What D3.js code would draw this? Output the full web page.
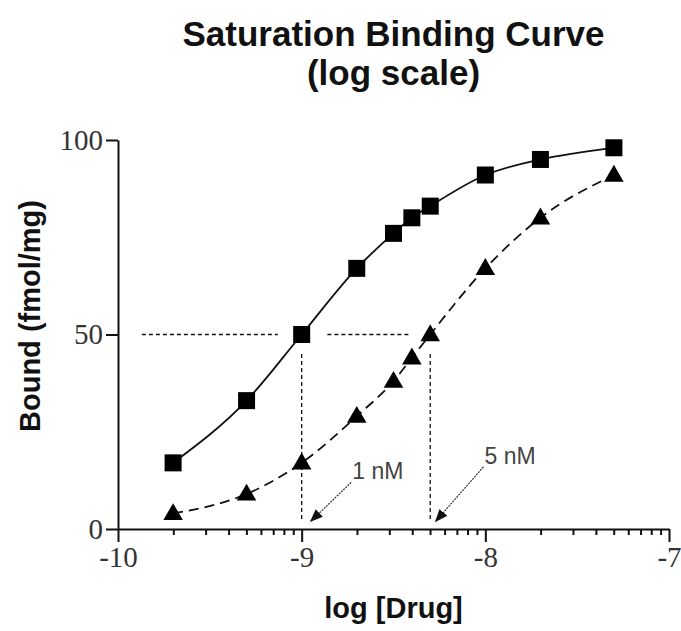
<!DOCTYPE html>
<html>
<head>
<meta charset="utf-8">
<script src="https://cdn.jsdelivr.net/npm/d3@7"></script>
<style>
  html, body { margin: 0; padding: 0; background: #fff; }
  svg { display: block; }
</style>
</head>
<body>
<svg id="chart" width="681" height="631"></svg>
<script>
// ---- data ----
const logDrug = [-9.7, -9.3, -9.0, -8.7, -8.5, -8.4, -8.3, -8.0, -7.7, -7.3];
const boundKd1 = [17, 33, 50, 67, 76, 80, 83, 91, 95, 98];   // squares, solid line
const boundKd5 = [4, 9, 17, 29, 38, 44, 50, 67, 80, 91];     // triangles, dashed line
const xMajorTicks = [-10, -9, -8, -7];
const xMinorMultipliers = [2, 3, 4, 5, 6, 7, 8, 9];
const yTicks = [0, 50, 100];
const halfMax = 50;
const kdValues = [-9.0, -8.3];
const annotations = [
  { label: "1 nM", from: [-8.73, 12], to: [-8.95, 2] },
  { label: "5 nM", from: [-8.01, 16], to: [-8.27, 2] }
];

const svg = d3.select("#chart");
const x = d3.scaleLinear().domain([-10, -7]).range([118, 669]);
const y = d3.scaleLinear().domain([0, 100]).range([529, 140]);
const cx = (x.range()[0] + x.range()[1]) / 2;

// defs: arrowhead
svg.append("defs").append("marker")
  .attr("id", "arrow").attr("viewBox", "0 0 10 10")
  .attr("refX", 9).attr("refY", 5)
  .attr("markerWidth", 13).attr("markerHeight", 13)
  .attr("markerUnits", "userSpaceOnUse")
  .attr("orient", "auto")
  .append("path").attr("d", "M0,1 L10,5 L0,9 Z").attr("fill", "#111");

// Title
const sans = "Liberation Sans, Arial, Helvetica, sans-serif";
svg.append("text").attr("x", cx).attr("y", 46)
  .attr("text-anchor", "middle")
  .attr("font-family", sans)
  .attr("font-weight", "bold").attr("font-size", 35)
  .attr("fill", "#111")
  .text("Saturation Binding Curve");
svg.append("text").attr("x", cx).attr("y", 85)
  .attr("text-anchor", "middle")
  .attr("font-family", sans)
  .attr("font-weight", "bold").attr("font-size", 35)
  .attr("fill", "#111")
  .text("(log scale)");

// Y axis
const serif = "Liberation Serif, Times New Roman, serif";
const yAxis = d3.axisLeft(y).tickValues(yTicks).tickSize(12).tickSizeOuter(0).tickPadding(3);
const gy = svg.append("g").attr("transform", `translate(${x(-10)},0)`).call(yAxis);
gy.select(".domain").attr("stroke", "#111").attr("stroke-width", 2);
gy.selectAll(".tick line").attr("stroke", "#111").attr("stroke-width", 2);
gy.selectAll(".tick text")
  .attr("font-family", serif)
  .attr("font-size", 29).attr("fill", "#333");

// X axis: major ticks
const xAxis = d3.axisBottom(x).tickValues(xMajorTicks).tickSize(13).tickSizeOuter(0)
  .tickPadding(4).tickFormat(d3.format("d"));
const gx = svg.append("g").attr("transform", `translate(0,${y(0)})`).call(xAxis);
gx.select(".domain").attr("stroke", "#111").attr("stroke-width", 2);
gx.selectAll(".tick line").attr("stroke", "#111").attr("stroke-width", 2);
gx.selectAll(".tick text")
  .attr("font-family", serif)
  .attr("font-size", 29).attr("fill", "#333")
  .text(d => d3.format("d")(d).replace("−", "-"));

// X axis: minor ticks (log-spaced within each decade)
const minorVals = [];
xMajorTicks.slice(0, -1).forEach(d => xMinorMultipliers.forEach(m => minorVals.push(d + Math.log10(m))));
const gxMinor = svg.append("g").attr("transform", `translate(0,${y(0)})`)
  .call(d3.axisBottom(x).tickValues(minorVals).tickSize(6).tickSizeOuter(0).tickFormat(""));
gxMinor.select(".domain").remove();
gxMinor.selectAll(".tick line").attr("stroke", "#111").attr("stroke-width", 2);

// Axis titles
svg.append("text").attr("x", cx).attr("y", 618)
  .attr("text-anchor", "middle")
  .attr("font-family", sans)
  .attr("font-weight", "bold").attr("font-size", 29).attr("fill", "#111")
  .text("log [Drug]");
svg.append("text")
  .attr("transform", "translate(40,316) rotate(-90)")
  .attr("text-anchor", "middle")
  .attr("font-family", sans)
  .attr("font-weight", "bold").attr("font-size", 29).attr("fill", "#111")
  .text("Bound (fmol/mg)");

// Reference dashed lines at half-max
const refStyle = sel => sel.attr("stroke", "#111").attr("stroke-width", 1.3).attr("stroke-dasharray", "4,3").attr("fill", "none");
svg.append("line").attr("x1", x(-9.87)).attr("x2", x(-9.13)).attr("y1", y(halfMax)).attr("y2", y(halfMax)).call(refStyle);
svg.append("line").attr("x1", x(-8.86)).attr("x2", x(-8.41)).attr("y1", y(halfMax)).attr("y2", y(halfMax)).call(refStyle);
kdValues.forEach(k => {
  svg.append("line").attr("x1", x(k)).attr("x2", x(k)).attr("y1", y(45)).attr("y2", y(2.5)).call(refStyle);
});

// Curves
const pts1 = logDrug.map((d, i) => [d, boundKd1[i]]);
const pts5 = logDrug.map((d, i) => [d, boundKd5[i]]);
const line = d3.line().x(d => x(d[0])).y(d => y(d[1])).curve(d3.curveMonotoneX);
svg.append("path").attr("d", line(pts1)).attr("fill", "none").attr("stroke", "#111").attr("stroke-width", 1.8);
svg.append("path").attr("d", line(pts5)).attr("fill", "none").attr("stroke", "#111").attr("stroke-width", 1.8)
  .attr("stroke-dasharray", "10,6");

// Markers
svg.append("g").selectAll("rect").data(pts1).join("rect")
  .attr("x", d => x(d[0]) - 8.5).attr("y", d => y(d[1]) - 8.5)
  .attr("width", 17).attr("height", 17).attr("fill", "#000");
const tri = d3.symbol().type(d3.symbolTriangle).size(165);
svg.append("g").selectAll("path").data(pts5).join("path")
  .attr("transform", d => `translate(${x(d[0])},${y(d[1]) + 1})`)
  .attr("d", tri).attr("fill", "#000");

// Annotations
annotations.forEach(a => {
  svg.append("line")
    .attr("x1", x(a.from[0])).attr("y1", y(a.from[1]))
    .attr("x2", x(a.to[0])).attr("y2", y(a.to[1]))
    .attr("stroke", "#333").attr("stroke-width", 1.2).attr("stroke-dasharray", "2,1")
    .attr("marker-end", "url(#arrow)");
  svg.append("text")
    .attr("x", x(a.from[0]) + 1).attr("y", y(a.from[1]) - 3)
    .attr("font-family", sans)
    .attr("font-size", 23).attr("fill", "#444")
    .text(a.label);
});
</script>
</body>
</html>
